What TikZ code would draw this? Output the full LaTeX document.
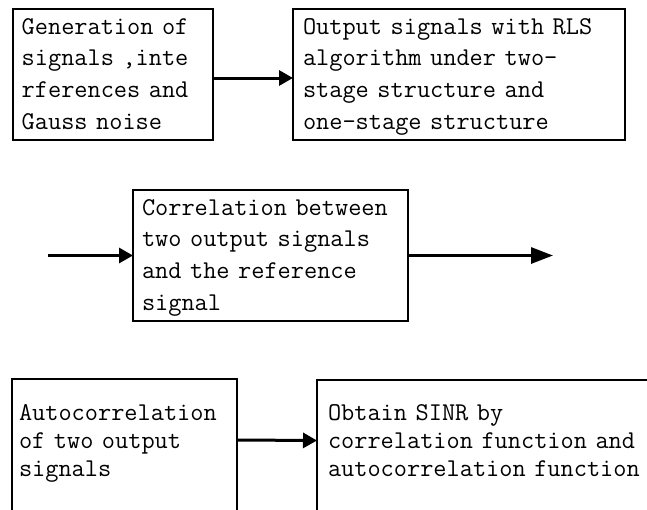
\documentclass[tikz,border=0pt]{standalone}
\usepackage{fontspec}
\usetikzlibrary{arrows.meta}
\begin{document}
\begin{tikzpicture}[x=1pt,y=-1pt,
  box/.style={draw=black, line width=1.6pt, rectangle, anchor=north west, align=left,
    outer sep=0pt, inner ysep=0pt, font=\ttfamily\fontsize{25.6}{31.7}\selectfont,
    text height=25pt, text depth=106pt},
  lowbox/.style={box, font=\ttfamily\fontsize{25.6}{28}\selectfont,
    text height=41pt, text depth=120pt},
  arr/.style={line width=3pt, -{Triangle[length=14pt,width=15pt]}},
  longarr/.style={line width=3pt, -{Triangle[length=22pt,width=16pt]}}]
\useasboundingbox (0,0) rectangle (647,509);
\clip (0,0) rectangle (647,509);

\node[box, inner xsep=8.7pt, text width=182.6pt] (b1) at (13,9)
  {Generation~of\\signals~,inte\\rferences~and\\Gauss~noise};
\node[box, inner xsep=10pt, text width=312pt] (b2) at (293,9)
  {Output~signals~with~RLS\\algorithm~under~two-\\stage~structure~and\\one-stage~structure};
\node[box, inner xsep=9pt, text width=257pt] (b3) at (133,190)
  {Correlation~between\\two~output~signals\\and~the~reference\\signal};
\node[lowbox, inner xsep=7pt, text width=211pt] (b4) at (12,379)
  {Autocorrelation\\of~two~output\\signals};
\node[lowbox, inner xsep=11pt, text width=361pt, text height=40pt] (b5) at (317,380)
  {Obtain~SINR~by\\correlation~function~and\\autocorrelation~function};

\coordinate (in) at (48,255.5);
\coordinate (out) at (553,255.5);

\draw[arr] ([yshift=-3.5pt]b1.east) -- ([yshift=-3.5pt]b2.west);
\draw[arr] (in) -- (b3.west);
\draw[longarr] (b3.east) -- (out);
\draw[arr] ([yshift=19.5pt]b4.east) -- ([yshift=19.5pt]b5.west);
\end{tikzpicture}
\end{document}
